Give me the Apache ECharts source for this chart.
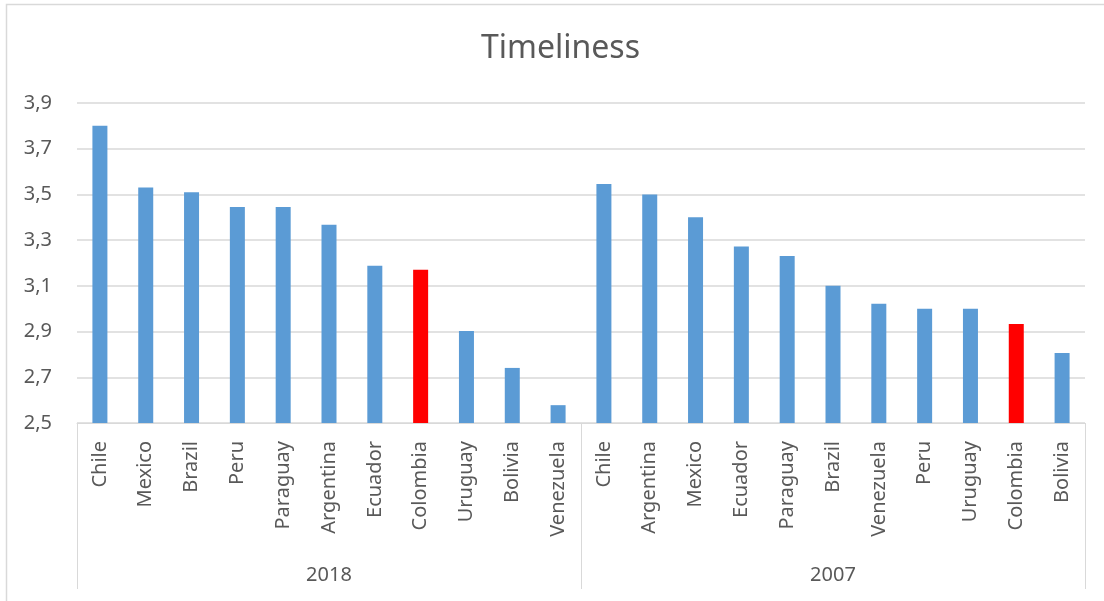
<!DOCTYPE html>
<html>
<head>
<meta charset="utf-8">
<script src="https://cdn.jsdelivr.net/npm/echarts@6/dist/echarts.min.js"></script>
<style>
html,body{margin:0;padding:0;background:#fff;}
#chart{width:1104px;height:601px;}
</style>
</head>
<body>
<div id="chart"></div>
<script>
const years = ['2018', '2007'];
const countries2018 = ['Chile','Mexico','Brazil','Peru','Paraguay','Argentina','Ecuador','Colombia','Uruguay','Bolivia','Venezuela'];
const values2018 = [3.80, 3.53, 3.51, 3.445, 3.445, 3.367, 3.188, 3.171, 2.903, 2.741, 2.578];
const countries2007 = ['Chile','Argentina','Mexico','Ecuador','Paraguay','Brazil','Venezuela','Peru','Uruguay','Colombia','Bolivia'];
const values2007 = [3.546, 3.50, 3.40, 3.272, 3.231, 3.10, 3.022, 3.00, 3.00, 2.933, 2.806];
const yTicks = [2.5, 2.7, 2.9, 3.1, 3.3, 3.5, 3.7, 3.9];
const highlight = 'Colombia';

const categories = countries2018.concat(countries2007);
const values = values2018.concat(values2007);
const BLUE = '#5b9bd5', RED = '#ff0000', TXT = '#595959', GRID = '#d9d9d9';
const FONT = 'Noto Sans';

const chart = echarts.init(document.getElementById('chart'), null, {renderer: 'canvas'});
chart.setOption({
  animation: false,
  backgroundColor: '#fff',
  title: {
    text: 'Timeliness', left: 476, top: 28,
    textStyle: {fontFamily: FONT, fontSize: 32, fontWeight: 'normal', color: TXT}
  },
  grid: {left: 77, right: 19, top: 103, bottom: 178, containLabel: false},
  xAxis: [{
    type: 'category', data: categories, position: 'bottom',
    axisLine: {show: true, lineStyle: {color: GRID, width: 1}},
    axisTick: {show: false},
    axisLabel: {rotate: 90, interval: 0, margin: 18, fontFamily: FONT, fontSize: 20, color: TXT},
    splitLine: {show: false}
  }, {
    type: 'category', data: years, position: 'bottom',
    axisLine: {show: false},
    axisTick: {show: true, length: 166, lineStyle: {color: GRID, width: 1}},
    axisLabel: {margin: 142, fontFamily: FONT, fontSize: 20, color: TXT},
    splitLine: {show: false}
  }],
  yAxis: {
    type: 'value', min: 2.5, max: 3.9,
    axisLine: {show: false},
    axisTick: {show: false, customValues: yTicks},
    axisLabel: {
      customValues: yTicks, margin: 25, fontFamily: FONT, fontSize: 20, color: TXT,
      formatter: v => v.toFixed(1).replace('.', ',')
    },
    splitLine: {show: true, lineStyle: {color: GRID, width: 1.5}}
  },
  series: [{
    type: 'bar', xAxisIndex: 0, barWidth: 15,
    data: values.map((v, i) => ({
      value: v,
      itemStyle: {color: categories[i] === highlight ? RED : BLUE}
    }))
  }],
  graphic: [{
    type: 'rect', silent: true, z: -1,
    shape: {x: 6.5, y: 4.5, width: 1200, height: 700},
    style: {fill: 'none', stroke: GRID, lineWidth: 1.5}
  }]
});
</script>
</body>
</html>
